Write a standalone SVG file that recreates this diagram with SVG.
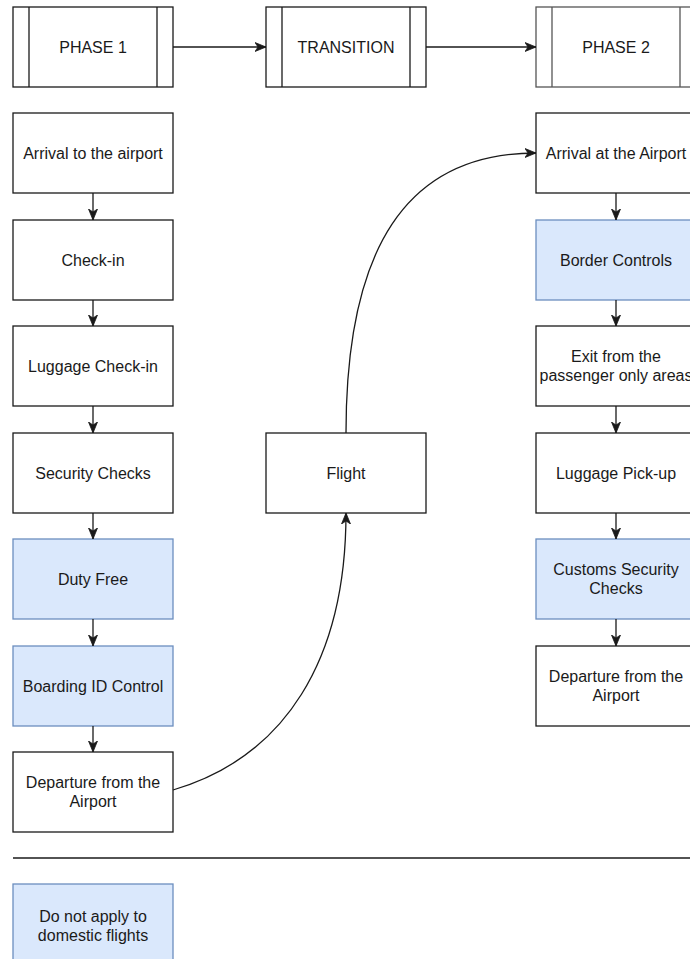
<svg xmlns="http://www.w3.org/2000/svg" width="690" height="959" viewBox="0 0 690 959">
<style>
.box{fill:#ffffff;stroke:#1a1a1a;stroke-width:1.3}
.blue{fill:#dae8fc;stroke:#6c8ebf;stroke-width:1.3}
.ln{fill:none;stroke:#1a1a1a;stroke-width:1.3}
.edge{fill:none;stroke:#1a1a1a;stroke-width:1.3;marker-end:url(#arr)}
text{font-family:"Liberation Sans",Arial,Helvetica,sans-serif;font-size:16px;fill:#1a1a1a;text-anchor:middle;dominant-baseline:central}
</style>
<defs>
<marker id="arr" markerUnits="userSpaceOnUse" markerWidth="12" markerHeight="10" viewBox="0 0 12 10" refX="11" refY="5" orient="auto">
<path d="M0,0.5 L11,5 L0,9.5 L3,5 Z" fill="#1a1a1a" stroke="#1a1a1a" stroke-width="0.8"/>
</marker>
</defs>
<rect x="0" y="0" width="690" height="959" fill="#ffffff"/>

<g id="phase1">
<rect class="box" x="13" y="7" width="160" height="80"/>
<line class="ln" x1="29" y1="7" x2="29" y2="87"/>
<line class="ln" x1="157" y1="7" x2="157" y2="87"/>
<text x="93" y="47">PHASE 1</text>
</g>
<g id="transition">
<rect class="box" x="266" y="7" width="160" height="80"/>
<line class="ln" x1="282" y1="7" x2="282" y2="87"/>
<line class="ln" x1="410" y1="7" x2="410" y2="87"/>
<text x="346" y="47">TRANSITION</text>
</g>
<g id="phase2">
<rect class="box" x="536" y="7" width="160" height="80" style="stroke:#555"/>
<line class="ln" x1="552" y1="7" x2="552" y2="87" style="stroke:#555"/>
<line class="ln" x1="680" y1="7" x2="680" y2="87" style="stroke:#555"/>
<text x="616" y="47">PHASE 2</text>
</g>

<g id="arrival-to-airport">
<rect class="box" x="13" y="113" width="160" height="80"/>
<text x="93" y="153">Arrival to the airport</text>
</g>
<g id="check-in">
<rect class="box" x="13" y="220" width="160" height="80"/>
<text x="93" y="260">Check-in</text>
</g>
<g id="luggage-check-in">
<rect class="box" x="13" y="326" width="160" height="80"/>
<text x="93" y="366">Luggage Check-in</text>
</g>
<g id="security-checks">
<rect class="box" x="13" y="433" width="160" height="80"/>
<text x="93" y="473">Security Checks</text>
</g>
<g id="duty-free">
<rect class="blue" x="13" y="539" width="160" height="80"/>
<text x="93" y="579">Duty Free</text>
</g>
<g id="boarding-id-control">
<rect class="blue" x="13" y="646" width="160" height="80"/>
<text x="93" y="686">Boarding ID Control</text>
</g>
<g id="departure-from-airport-1">
<rect class="box" x="13" y="752" width="160" height="80"/>
<text x="93" y="782.5">Departure from the</text>
<text x="93" y="801.5">Airport</text>
</g>

<g id="flight">
<rect class="box" x="266" y="433" width="160" height="80"/>
<text x="346" y="473">Flight</text>
</g>

<g id="arrival-at-airport">
<rect class="box" x="536" y="113" width="160" height="80"/>
<text x="616" y="153">Arrival at the Airport</text>
</g>
<g id="border-controls">
<rect class="blue" x="536" y="220" width="160" height="80"/>
<text x="616" y="260">Border Controls</text>
</g>
<g id="exit-passenger-areas">
<rect class="box" x="536" y="326" width="160" height="80"/>
<text x="616" y="356.5">Exit from the</text>
<text x="616" y="375.5">passenger only areas</text>
</g>
<g id="luggage-pick-up">
<rect class="box" x="536" y="433" width="160" height="80"/>
<text x="616" y="473">Luggage Pick-up</text>
</g>
<g id="customs-security-checks">
<rect class="blue" x="536" y="539" width="160" height="80"/>
<text x="616" y="569.5">Customs Security</text>
<text x="616" y="588.5">Checks</text>
</g>
<g id="departure-from-airport-2">
<rect class="box" x="536" y="646" width="160" height="80"/>
<text x="616" y="676.5">Departure from the</text>
<text x="616" y="695.5">Airport</text>
</g>

<g id="separator">
<line class="ln" x1="13" y1="858" x2="690" y2="858"/>
</g>
<g id="legend">
<rect class="blue" x="13" y="884" width="160" height="80"/>
<text x="93" y="916.5">Do not apply to</text>
<text x="93" y="935.5">domestic flights</text>
</g>

<g id="connectors">
<line class="edge" x1="173" y1="47" x2="266" y2="47"/>
<line class="edge" x1="426" y1="47" x2="536" y2="47"/>
<line class="edge" x1="93" y1="193" x2="93" y2="220"/>
<line class="edge" x1="93" y1="300" x2="93" y2="326"/>
<line class="edge" x1="93" y1="406" x2="93" y2="433"/>
<line class="edge" x1="93" y1="513" x2="93" y2="539"/>
<line class="edge" x1="93" y1="619" x2="93" y2="646"/>
<line class="edge" x1="93" y1="726" x2="93" y2="752"/>
<line class="edge" x1="616" y1="193" x2="616" y2="220"/>
<line class="edge" x1="616" y1="300" x2="616" y2="326"/>
<line class="edge" x1="616" y1="406" x2="616" y2="433"/>
<line class="edge" x1="616" y1="513" x2="616" y2="539"/>
<line class="edge" x1="616" y1="619" x2="616" y2="646"/>
<path class="edge" d="M173,790 C285,757 346,660 346,513"/>
<path class="edge" d="M346,433 C346,250 405,153 536,153"/>
</g>
</svg>
